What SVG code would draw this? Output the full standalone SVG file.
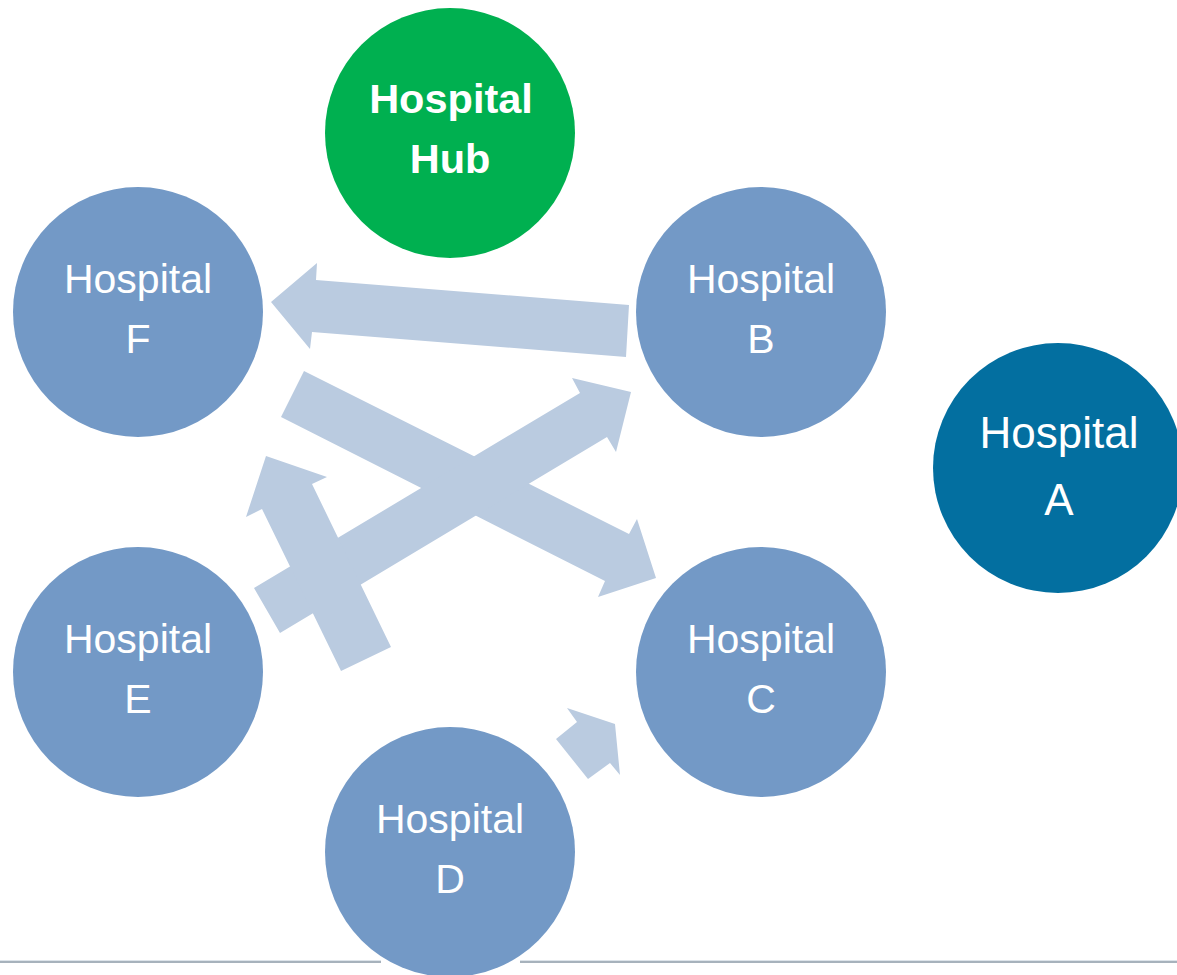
<svg xmlns="http://www.w3.org/2000/svg" width="1177" height="975" viewBox="0 0 1177 975">
<style>
.bg{fill:#ffffff}
.node{fill:#7399c6}
.hub{fill:#00b050}
.dark{fill:#036fa0}
.arrow{fill:#bacbe0}
.t{font-family:"Liberation Sans",Arial,sans-serif;font-size:41px;fill:#ffffff;text-anchor:middle}
.b{font-weight:bold;font-size:41.5px}
.big{font-size:44px}
.rule{stroke:#a7b2bc;stroke-width:2;fill:none}
.rule2{stroke:#dde4ea;stroke-width:1;fill:none}
</style>
<rect class="bg" x="0" y="0" width="1177" height="975"/>
<g id="baseline">
<line class="rule2" x1="0" y1="960.5" x2="381" y2="960.5"/>
<line class="rule2" x1="520" y1="960.5" x2="1177" y2="960.5"/>
<line class="rule" x1="0" y1="962" x2="381" y2="962"/>
<line class="rule" x1="520" y1="962" x2="1177" y2="962"/>
</g>
<g id="connectors">
<polygon class="arrow" points="629,305 626,357 312,332 310,349 271,302 317,263 316,280"/>
<polygon class="arrow" points="304,371 629,534 637,519 656,578 598,597 605,581 281,417"/>
<polygon class="arrow" points="254,588 580,393 572,378 631,392 616,452 607,437 280,633"/>
<polygon class="arrow" points="341,671 262,509 246,517 266,456 327,477 312,484 391,647"/>
<polygon class="arrow" points="556,739 577,722 567,708 615,724 620,775 610,763 588,779"/>
</g>
<g id="hub">
<circle class="hub" cx="450" cy="133" r="125"/>
<text class="t b" x="451" y="113">Hospital</text>
<text class="t b" x="450" y="173">Hub</text>
</g>
<g id="hospital-f">
<circle class="node" cx="138" cy="312" r="125"/>
<text class="t" x="138" y="293">Hospital</text>
<text class="t" x="138" y="353">F</text>
</g>
<g id="hospital-b">
<circle class="node" cx="761" cy="312" r="125"/>
<text class="t" x="761" y="293">Hospital</text>
<text class="t" x="761" y="353">B</text>
</g>
<g id="hospital-a">
<circle class="dark" cx="1058" cy="468" r="125"/>
<text class="t big" x="1059" y="448">Hospital</text>
<text class="t big" x="1059" y="515">A</text>
</g>
<g id="hospital-e">
<circle class="node" cx="138" cy="672" r="125"/>
<text class="t" x="138" y="653">Hospital</text>
<text class="t" x="138" y="713">E</text>
</g>
<g id="hospital-c">
<circle class="node" cx="761" cy="672" r="125"/>
<text class="t" x="761" y="653">Hospital</text>
<text class="t" x="761" y="713">C</text>
</g>
<g id="hospital-d">
<circle class="node" cx="450" cy="852" r="125"/>
<text class="t" x="450" y="833">Hospital</text>
<text class="t" x="450" y="893">D</text>
</g>
</svg>
